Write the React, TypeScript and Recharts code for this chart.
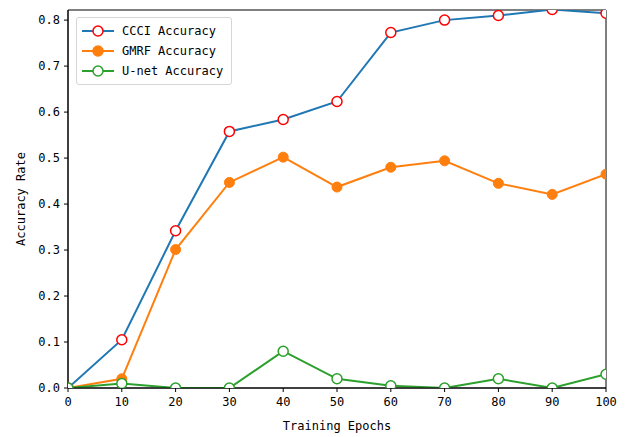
import { Line, LineChart, ReferenceArea, XAxis, YAxis } from "recharts";

const epochs = [0, 10, 20, 30, 40, 50, 60, 70, 80, 90, 100];
const ccciAccuracy = [0, 0.105, 0.342, 0.558, 0.584, 0.623, 0.773, 0.8, 0.81, 0.823, 0.815];
const gmrfAccuracy = [0, 0.02, 0.301, 0.447, 0.502, 0.437, 0.48, 0.494, 0.445, 0.421, 0.465];
const unetAccuracy = [0, 0.01, 0, 0, 0.08, 0.02, 0.005, 0, 0.02, 0, 0.03];

const xTicks = [0, 10, 20, 30, 40, 50, 60, 70, 80, 90, 100];
const yTicks = [0, 0.1, 0.2, 0.3, 0.4, 0.5, 0.6, 0.7, 0.8];

const FONT = "'DejaVu Sans Mono', 'Liberation Mono', monospace";
const Y_MAX = 0.822;

const data = epochs.map((epoch, i) => ({
  epoch,
  ccci: ccciAccuracy[i],
  gmrf: gmrfAccuracy[i],
  unet: unetAccuracy[i],
}));

const legendItems = [
  { label: "CCCI Accuracy", line: "#1f77b4", fill: "#ffffff", edge: "#ff0000" },
  { label: "GMRF Accuracy", line: "#ff7f0e", fill: "#ff7f0e", edge: "#ff7f0e" },
  { label: "U-net Accuracy", line: "#2ca02c", fill: "#ffffff", edge: "#2ca02c" },
];

function LegendBox() {
  return (
    <div
      style={{
        position: "absolute",
        left: 76,
        top: 17,
        border: "1px solid #d6d6d6",
        borderRadius: 3,
        background: "rgba(255,255,255,0.8)",
        padding: "3px 8px 3px 3px",
        fontFamily: FONT,
        fontSize: 12,
        color: "#000",
      }}
    >
      {legendItems.map((item) => (
        <div
          key={item.label}
          style={{ display: "flex", alignItems: "center", height: 20 }}
        >
          <svg width={36} height={14} style={{ marginRight: 6 }}>
            <line x1={2} y1={7} x2={34} y2={7} stroke={item.line} strokeWidth={2} />
            <circle cx={18} cy={7} r={5} fill={item.fill} stroke={item.edge} strokeWidth={1.5} />
          </svg>
          <span>{item.label}</span>
        </div>
      ))}
    </div>
  );
}

const tickStyle = { fill: "#000", fontSize: 12, fontFamily: FONT };

export default function App() {
  return (
    <div style={{ position: "absolute", left: 0, top: 0, width: 625, height: 437, background: "#fff" }}>
      <LineChart
        width={625}
        height={437}
        data={data}
        margin={{ top: 10, right: 19, bottom: 0, left: 0 }}
      >
        <XAxis
          dataKey="epoch"
          type="number"
          domain={[0, 100]}
          ticks={xTicks}
          allowDataOverflow
          height={49}
          tick={tickStyle}
          tickSize={4}
          tickMargin={5}
          stroke="#000"
          label={{
            value: "Training Epochs",
            position: "insideBottom",
            offset: 7,
            style: { fill: "#000", fontSize: 12, fontFamily: FONT },
          }}
        />
        <YAxis
          type="number"
          domain={[0, Y_MAX]}
          ticks={yTicks}
          allowDataOverflow
          width={68}
          tick={tickStyle}
          tickSize={4}
          tickMargin={4}
          tickFormatter={(v) => Number(v).toFixed(1)}
          stroke="#000"
          label={{
            value: "Accuracy Rate",
            angle: -90,
            position: "insideLeft",
            offset: 21,
            style: { fill: "#000", fontSize: 12, fontFamily: FONT, textAnchor: "middle" },
          }}
        />
        <ReferenceArea
          x1={0}
          x2={100}
          y1={0}
          y2={Y_MAX}
          fill="none"
          fillOpacity={0}
          stroke="#000"
          strokeWidth={1}
        />
        <Line
          dataKey="ccci"
          name="CCCI Accuracy"
          stroke="#1f77b4"
          strokeWidth={2}
          dot={{ r: 5, fill: "#ffffff", stroke: "#ff0000", strokeWidth: 1.5, clipDot: true }}
          isAnimationActive={false}
        />
        <Line
          dataKey="gmrf"
          name="GMRF Accuracy"
          stroke="#ff7f0e"
          strokeWidth={2}
          dot={{ r: 5, fill: "#ff7f0e", stroke: "#ff7f0e", strokeWidth: 1, clipDot: true }}
          isAnimationActive={false}
        />
        <Line
          dataKey="unet"
          name="U-net Accuracy"
          stroke="#2ca02c"
          strokeWidth={2}
          dot={{ r: 5, fill: "#ffffff", stroke: "#2ca02c", strokeWidth: 1.5, clipDot: true }}
          isAnimationActive={false}
        />
      </LineChart>
      <LegendBox />
    </div>
  );
}
